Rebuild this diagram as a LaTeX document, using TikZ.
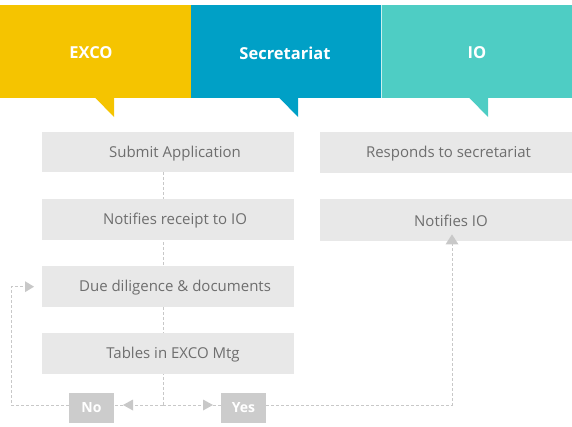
\documentclass[tikz,border=0pt]{standalone}
\usepackage{fontspec}
\setmainfont{Open Sans}
\usetikzlibrary{backgrounds}
\definecolor{excoY}{HTML}{F5C400}
\definecolor{secB}{HTML}{00A0C6}
\definecolor{ioT}{HTML}{4ECDC4}
\definecolor{boxG}{HTML}{E8E8E8}
\definecolor{txtG}{HTML}{6E6E6E}
\definecolor{lineG}{HTML}{C8C8C8}
\definecolor{tagG}{HTML}{CCCCCC}
\tikzset{
  head/.style={fill=#1, draw=none, inner sep=0pt, minimum height=93pt, anchor=north west},
  headtext/.style={text=white, inner sep=0pt, font=\fontsize{16.5}{18}\selectfont\bfseries},
  stepbox/.style={fill=boxG, draw=none, inner sep=0pt, minimum width=252pt, minimum height=41pt, anchor=north west},
  steptext/.style={text=txtG, font=\fontsize{15}{17}\selectfont, inner sep=0pt},
  tag/.style={fill=tagG, draw=none, inner sep=0pt, minimum width=45pt, minimum height=30pt, text=white, font=\fontsize{14}{16}\selectfont\bfseries},
  flow/.style={draw=lineG, line width=1pt, dash pattern=on 3pt off 2pt},
  tip/.style={fill=lineG, draw=none}
}
\begin{document}
\begin{tikzpicture}[x=1pt,y=-1pt]
\useasboundingbox (0,0) rectangle (572,426);
% headers
\node[head=excoY, minimum width=191pt] (hexco) at (0,5) {};
\node[head=secB, minimum width=190pt] (hsec) at (191,5) {};
\node[head=ioT, minimum width=191pt] (hio) at (381,5) {};
\fill[white!70!ioT] (380.6,5) rectangle (381.4,98);
\node[headtext] (texco) at (91,53) {EXCO};
\node[headtext] (tsec) at (285,53) {Secretariat};
\node[headtext] (tio) at (477,53) {IO};
% tails
\fill[excoY] (95,97.5) -- (114,97.5) -- (114,117) -- cycle;
\fill[secB] (279,97.5) -- (298,97.5) -- (298,117) -- cycle;
\fill[ioT] (469,97.5) -- (488,97.5) -- (488,117) -- cycle;
% left column boxes
\node[stepbox, minimum height=40pt] (sub) at (42,132) {};
\node[steptext] (tsub) at (175,153.5) {Submit Application};
\node[stepbox] (rec) at (42,199) {};
\node[steptext] (trec) at (175,220.5) {Notifies receipt to IO};
\node[stepbox] (due) at (42,266) {};
\node[steptext] (tdue) at (175,287.5) {Due diligence \& documents};
\node[stepbox] (tab) at (42,333) {};
\node[steptext] (ttab) at (173,354.5) {Tables in EXCO Mtg};
% right column boxes
\node[stepbox] (resp) at (320,132) {};
\node[steptext] (tresp) at (448.5,153.5) {Responds to secretariat};
\node[stepbox, minimum height=42pt] (nio) at (320,199) {};
\node[steptext] (tnio) at (451,220.5) {Notifies IO};
% decision tags
\node[tag] (no) at (91.5,408) {No};
\node[tag] (yes) at (243.5,408) {Yes};
% connectors
\coordinate (j) at (163,405);
\coordinate (lc) at (11,405);
\coordinate (rc) at (452,405);
\begin{scope}[on background layer]
\draw[flow] (sub.south -| j) -- (j);
\draw[flow] (j) -- (no.east |- j);
\draw[flow] (j) -- (yes.west |- j);
\draw[flow] (no.west |- j) -- (lc) -- (lc |- due.west) -- ([xshift=-9pt]due.west);
\draw[flow] (yes.east |- j) -- (rc) -- ([yshift=9pt]rc |- nio.south);
\end{scope}
% arrow heads
\fill[tip] ([xshift=-8pt]due.west) -- +(-9,-5.5) -- +(-9,5.5) -- cycle;
\fill[tip] (123,405) -- +(10,-5.5) -- +(10,5.5) -- cycle;
\fill[tip] (213,405) -- +(-10,-5.5) -- +(-10,5.5) -- cycle;
\fill[tip] ([yshift=7pt]rc |- nio.south) -- +(-6.5,10) -- +(6.5,10) -- cycle;
\end{tikzpicture}
\end{document}
